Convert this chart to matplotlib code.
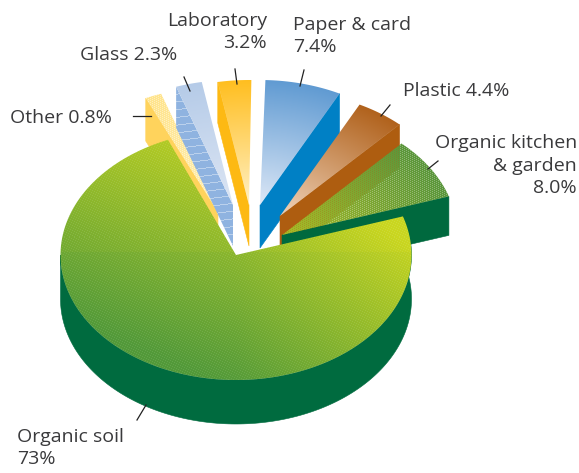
import numpy as np
import matplotlib
matplotlib.use("Agg")
import matplotlib.pyplot as plt
from matplotlib.path import Path
from matplotlib.patches import PathPatch
from matplotlib.colors import to_rgb

# Data, counter-clockwise from the start angle
categories = ["Organic kitchen\n& garden\n8.0%", "Plastic 4.4%", "Paper & card\n7.4%",
              "Laboratory\n3.2%", "Glass 2.3%", "Other 0.8%", "Organic soil\n73%"]
values = [8.0, 4.4, 7.4, 3.2, 2.3, 0.8, 73.0]

# Style / layout
START = 18.0
RX, RY = 175.5, 125.0
apexes = [(282, 235), (280, 216), (260, 205), (249, 205), (233, 205), (218, 212), (236, 255)]
depths = [39, 43, 43, 41, 41, 43, 44]
inner = ["#A9BC26", "#EFD2B8", "#DCE7F6", "#FFF0C4", "#DDE6F4", "#FFF0B8", None]
outer = ["#5A963C", "#B0611B", "#5F9AD2", "#FFBE1E", "#B5CBE8", "#FFE48C", None]
face = ["#00693E", "#AE5D10", "#0080C5", "#FDB913", "#8FB3E0", "#FFD35C", "#006B3F"]
face_side = [0, 0, 0, 1, 1, 1, None]
draw_adjust = [(0, 0), (0, 0), (0, -1.7), (-0.7, -1.3), (-1.3, -1.0), (-1.0, 1.5), (0, 0)]
text_pos = [(577, 165.5, "right"), (403, 91, "left"), (293, 36, "left"),
            (267, 32, "right"), (80, 55, "left"), (10, 118, "left"), (17, 448, "left")]
leaders = [((438, 161), (428, 169)), ((390, 105), (381, 116)), ((304, 70), (300, 86)),
           ((235, 69), (237, 84)), ((184, 77), (190, 91)), ((133, 116), (151, 116)),
           ((146, 405), (137, 420))]
W, H = 579, 473

plt.rcParams["font.family"] = ["Open Sans", "DejaVu Sans"]
fig = plt.figure(figsize=(W / 100, H / 100), dpi=100)
ax = fig.add_axes([0, 0, 1, 1])
ax.axis("off")
X, Y = np.meshgrid(np.arange(W) + 0.5, np.arange(H) + 0.5)
IX, IY = np.meshgrid(np.arange(W), np.arange(H))

scale = 360.0 / sum(values)
edges = START + np.concatenate([[0], np.cumsum(values)]) * scale
edges[-1] = START + 360.0
edges[-2] = START + 360.0 - values[-1] * scale


def rim(apex, a0, a1, n=80):
    t = np.radians(np.linspace(a0, a1, n))
    return np.column_stack([apex[0] + RX * np.cos(t), apex[1] - RY * np.sin(t)])


def poly(pts):
    return PathPatch(Path(np.vstack([pts, pts[:1]])), fc="none", ec="none", transform=ax.transData)


def fine(period=5):
    return (2 * IY - IX) % period == 0


def fill_image(pts, rgba, z):
    p = poly(pts)
    ax.add_patch(p)
    im = ax.imshow(rgba, extent=(0, W, H, 0), interpolation="nearest", zorder=z)
    im.set_clip_path(p)


for i in range(len(values) - 1):
    ap, d = apexes[i], depths[i]
    a0, a1 = edges[i] + draw_adjust[i][0], edges[i + 1] + draw_adjust[i][1]
    z = 20 - 2 * i
    side = a1 if face_side[i] else a0
    o = rim(ap, side, side, 1)[0]
    quad = np.array([ap, o, o + (0, d), (ap[0], ap[1] + d)])
    if i == 4:
        rgb = np.broadcast_to(np.array(to_rgb(face[i])), (H, W, 3)).copy()
        s = (((IY * 8 + IX) % 62) < 8)[..., None]
        rgb = rgb * (1 - s * 0.4) + s * 0.4
        fill_image(quad, np.dstack([rgb, np.ones((H, W))]), z)
    else:
        ax.add_patch(PathPatch(Path(np.vstack([quad, quad[:1]])), fc=face[i], ec=face[i], lw=0.4, zorder=z))
    r = np.clip(np.hypot((X - ap[0]) / RX, (Y - ap[1]) / RY), 0, 1)[..., None]
    rgb = np.array(to_rgb(inner[i])) * (1 - r) + np.array(to_rgb(outer[i])) * r
    alpha = np.ones((H, W))
    if i == 0:
        alpha = 1 - 0.3 * fine(4)
    if i == 5:
        k = 0.4 * fine(4)[..., None]
        rgb = rgb * (1 - k) + k
    top = np.vstack([[ap], rim(ap, a0, a1)])
    fill_image(top, np.dstack([rgb, alpha]), z + 0.5)

# Largest slice
ap, d = apexes[-1], depths[-1]
a0, a1 = edges[-2], edges[-1]
arc = rim(ap, 180, a1, 200)
ax.add_patch(PathPatch(Path(np.vstack([arc, arc[::-1] + (0, d), arc[:1]])), fc=face[-1], ec=face[-1], lw=0.4, zorder=30))
xn, yn = (X - ap[0]) / RX, (ap[1] - Y) / RY
w = 0.48 + 0.42 * yn + np.where(xn > 0, 0.45, 0.25) * xn + 0.05 * (yn > 0.02)
w = np.clip(w, 0.03, 1)[..., None]
rgb = np.array(to_rgb("#4F983A")) * (1 - w) + np.array(to_rgb("#C9D620")) * w
s = fine(5)[..., None] * 0.1
rgb = rgb * (1 - s) + s
fill_image(np.vstack([[ap], rim(ap, a0, a1, 300)]), np.dstack([rgb, np.ones((H, W))]), 31)

# Labels and leader lines
for lab, (x, y, ha), seg in zip(categories, text_pos, leaders):
    ax.text(x, y, lab, ha=ha, va="center", multialignment=ha, fontsize=14, color="#3A3A3C",
            linespacing=1.33, zorder=40)
    ax.plot([seg[0][0], seg[1][0]], [seg[0][1], seg[1][1]], color="#222222", lw=0.9, zorder=41)

ax.set_xlim(0, W)
ax.set_ylim(H, 0)
ax.set_aspect("auto")
fig.savefig("out.png", dpi=100, facecolor="white")
